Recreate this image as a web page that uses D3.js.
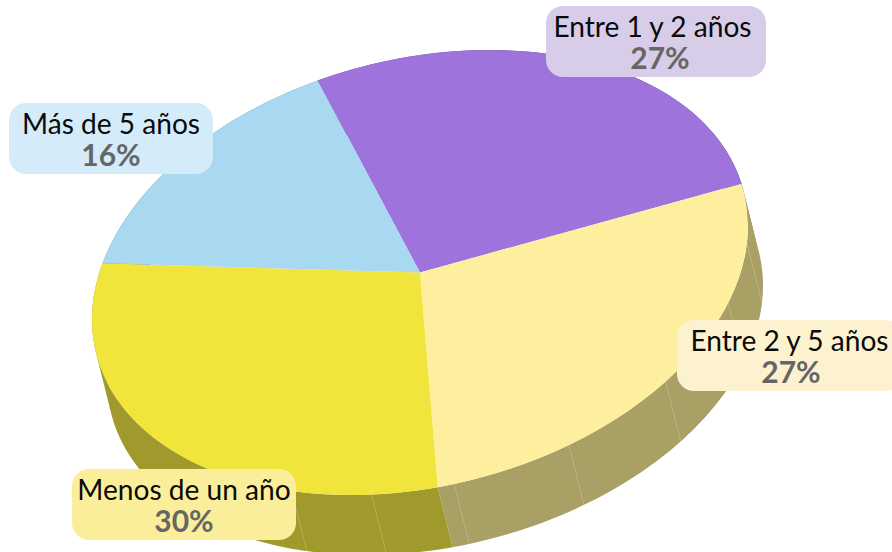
<!DOCTYPE html>
<html>
<head>
<meta charset="utf-8">
<script src="https://d3js.org/d3.v7.min.js"></script>
<style>
  html, body { margin: 0; padding: 0; background: #fff; }
  svg { display: block; }
  text { font-family: Lato, "Open Sans", sans-serif; }
</style>
</head>
<body>
<div id="chart"></div>
<script>
const categories = ["Entre 1 y 2 años", "Entre 2 y 5 años", "Menos de un año", "Más de 5 años"];
const shares     = [26.9, 27.3, 29.9, 15.9];
const topColors  = ["#9f73dc", "#feef9f", "#f1e43b", "#a9d9f0"];
const wallColors = ["#6f5099", "#a9a065", "#a09a2c", "#76979f"];
const boxColors  = ["#d8cde9", "#fdf2d0", "#fbee9a", "#d4ecfa"];
// label box corner, same order as categories
const boxX = [546, 677, 72, 9];
const boxY = [6, 320, 469, 103];
const boxW = [220, 225, 224, 204];

// facet lines on the side of the pie, degrees clockwise from 12 o'clock
const seamAngles = [94.5, 110, 131.5, 153, 174, 188.5, 203];

const width = 892, height = 552;
const cx = 420, cy = 272.5;   // centre of the top face
const rx = 328, ry = 222.5;   // half width / half height of the bounding box
const skew = -0.211;          // the ellipse leans, this is the x/y correlation
const depthX = 15, depthY = 60;

const svg = d3.select("#chart").append("svg")
    .attr("width", width)
    .attr("height", height);

// unit circle -> tilted ellipse
const a = rx, b = ry * skew, d = ry * Math.sqrt(1 - skew * skew);
const project = ang => {
    const ux = Math.sin(ang), uy = -Math.cos(ang);
    return [cx + a * ux, cy + b * ux + d * uy];
};

const rad = deg => deg * Math.PI / 180;

const pie = d3.pie()
    .sort(null)
    .startAngle(rad(-18.2))
    .endAngle(rad(341.8));
const slices = pie(shares);

const arc = d3.arc().innerRadius(0).outerRadius(1);

// side walls: small quads all wound the same way, so the part
// past the tangent point does not cancel out and leave a hole
const wallPath = s => {
    const front = d3.range(0, 61)
        .map(i => project(s.startAngle + (s.endAngle - s.startAngle) * i / 60));
    const line = d3.line();
    return d3.pairs(front).map(([p, q]) => {
        const quad = [p, q, [q[0] + depthX, q[1] + depthY], [p[0] + depthX, p[1] + depthY]];
        if (d3.polygonArea(quad) < 0) quad.reverse();
        return line(quad) + "Z";
    }).join("");
};
svg.append("g").selectAll("path")
    .data(slices)
    .join("path")
    .attr("d", wallPath)
    .attr("fill", (s, i) => wallColors[i]);

// thin lines where the wall facets meet
svg.append("g").selectAll("line")
    .data(seamAngles)
    .join("line")
    .attr("x1", v => project(rad(v))[0])
    .attr("y1", v => project(rad(v))[1])
    .attr("x2", v => project(rad(v))[0] + depthX)
    .attr("y2", v => project(rad(v))[1] + depthY)
    .attr("stroke", "#fff")
    .attr("stroke-opacity", 0.2)
    .attr("stroke-width", 1);

// top face
svg.append("g")
    .attr("transform", `matrix(${a} ${b} 0 ${d} ${cx} ${cy})`)
    .selectAll("path")
    .data(slices)
    .join("path")
    .attr("d", arc)
    .attr("fill", (s, i) => topColors[i]);

// labels
const labels = svg.append("g").selectAll("g")
    .data(categories)
    .join("g")
    .attr("transform", (c, i) => `translate(${boxX[i]},${boxY[i]})`);

labels.append("rect")
    .attr("width", (c, i) => boxW[i])
    .attr("height", 71)
    .attr("rx", 17)
    .attr("fill", (c, i) => boxColors[i]);

labels.append("text")
    .attr("x", (c, i) => i === 1 ? 112.5 : boxW[i] / 2 - (i === 0 ? 3.5 : 0))
    .attr("y", 31)
    .attr("text-anchor", "middle")
    .attr("font-size", 28.1)
    .attr("fill", "#0a0a0a")
    .text(c => c);

labels.append("text")
    .attr("x", (c, i) => i === 1 ? 114 : boxW[i] / 2 + (i === 0 ? 4 : 0))
    .attr("y", 63)
    .attr("text-anchor", "middle")
    .attr("font-size", 30)
    .attr("font-weight", 700)
    .attr("fill", "#666")
    .text((c, i) => d3.format(".0f")(shares[i]) + "%");
</script>
</body>
</html>
